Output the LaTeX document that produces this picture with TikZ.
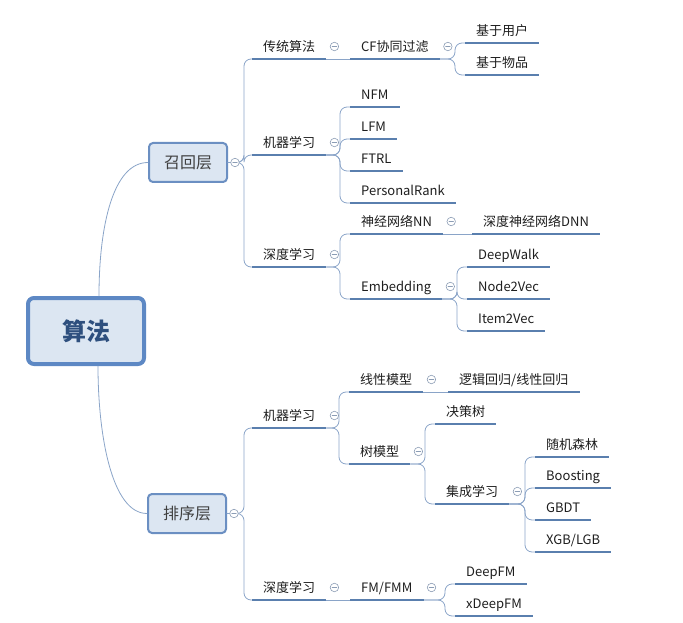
\documentclass[tikz,border=0pt]{standalone}
\usepackage{fontspec}
\setmainfont{Noto Sans CJK SC}
\usepackage{xcolor}
\usepackage{tikz}
\definecolor{mapLine}{HTML}{5A7FAE}
\definecolor{mapThin}{HTML}{8AA4C8}
\definecolor{mapFill}{HTML}{DCE6F2}
\definecolor{mapBorder}{HTML}{6B8FC2}
\definecolor{mapRoot}{HTML}{5D88C4}
\definecolor{mapRootText}{HTML}{2E4F7E}
\definecolor{mapInk}{HTML}{1E1E1E}
\definecolor{mapFold}{HTML}{8C9DB5}

\begin{document}
\begin{tikzpicture}[x=1pt, y=-1pt, line cap=round, line join=round,
  topic/.style={anchor=south west, inner xsep=11pt, inner ysep=5pt, text height=10pt,
    text depth=2.5pt, font=\fontsize{13}{15}\selectfont, text=mapInk},
  layer/.style={draw=mapBorder, line width=2pt, fill=mapFill, rounded corners=4pt,
    minimum width=78pt, minimum height=39pt, font=\fontsize{16}{18}\selectfont, text=mapInk!85},
  rootbox/.style={draw=mapRoot, line width=4pt, fill=mapFill, rounded corners=6pt,
    minimum width=116pt, minimum height=66pt, font=\bfseries\fontsize{24}{26}\selectfont, text=mapRootText},
  uline/.style={mapLine, line width=2.8pt, line cap=butt},
  conn/.style={mapThin, line width=0.8pt, rounded corners=7pt},
  fold/.style={circle, draw=mapFold, fill=white, line width=0.6pt, minimum size=8.5pt, inner sep=0pt,
    path picture={\draw[mapFold, line width=0.6pt] ([xshift=-2.3pt]path picture bounding box.center)
      -- ([xshift=2.3pt]path picture bounding box.center);}}]
  \useasboundingbox (0,0) rectangle (683,623);

  % root and the two layers
  \node[rootbox] (root) at (86,331) {算法};
  \node[layer] (recall) at (188,162.5) {召回层};
  \node[layer] (rank) at (187,513.5) {排序层};

  % recall side
  \node[topic] (t1) at (252,59) {传统算法};
  \node[topic] (t2) at (252,155) {机器学习};
  \node[topic] (t3) at (252,267) {深度学习};
  \node[topic] (cf) at (350,59) {CF协同过滤};
  \node[topic] (u1) at (465,43) {基于用户};
  \node[topic] (u2) at (465,75) {基于物品};
  \node[topic] (nfm) at (350,107) {NFM};
  \node[topic] (lfm) at (350,139) {LFM};
  \node[topic] (ftrl) at (350,171) {FTRL};
  \node[topic] (pr) at (350,203) {PersonalRank};
  \node[topic] (nn) at (350,234) {神经网络NN};
  \node[topic] (dnn) at (472,234) {深度神经网络DNN};
  \node[topic] (emb) at (350,299) {Embedding};
  \node[topic] (dw) at (467,267) {DeepWalk};
  \node[topic] (n2v) at (467,299) {Node2Vec};
  \node[topic] (i2v) at (467,331) {Item2Vec};

  % ranking side
  \node[topic] (s1) at (252,428) {机器学习};
  \node[topic] (s2) at (252,600) {深度学习};
  \node[topic] (lin) at (349,392) {线性模型};
  \node[topic] (lr) at (448,392) {逻辑回归/线性回归};
  \node[topic] (tree) at (349,464) {树模型};
  \node[topic] (dt) at (435,424) {决策树};
  \node[topic] (ens) at (435,504) {集成学习};
  \node[topic] (rf) at (535,457) {随机森林};
  \node[topic] (bst) at (535,488) {Boosting};
  \node[topic] (gbdt) at (535,520) {GBDT};
  \node[topic] (xgb) at (535,552) {XGB/LGB};
  \node[topic] (fm) at (350,600) {FM/FMM};
  \node[topic] (dfm) at (455,584) {DeepFM};
  \node[topic] (xdfm) at (455,616) {xDeepFM};

  % connectors
  \draw[conn, rounded corners=0pt] ([xshift=13pt]root.north) .. controls +(0,-70) and +(-35,0) .. (recall.west);
  \draw[conn, rounded corners=0pt] ([xshift=12pt]root.south) .. controls +(0,70) and +(-35,0) .. (rank.west);
  \foreach \p/\c in {recall/t1, recall/t2, recall/t3, rank/s1, rank/s2}
    \draw[conn] (\p.east) -| ([xshift=-8pt]\c.south west) -- (\c.south west);
  \foreach \p/\c in {cf/u1, cf/u2, t2/nfm, t2/lfm, t2/ftrl, t2/pr, t3/nn, t3/emb,
      emb/dw, emb/n2v, emb/i2v, s1/lin, s1/tree, tree/dt, tree/ens, ens/rf, ens/bst,
      ens/gbdt, ens/xgb, fm/dfm, fm/xdfm}
    \draw[conn] (\p.south east) -| ([xshift=-10pt]\c.south west) -- (\c.south west);
  \foreach \p/\c in {t1/cf, nn/dnn, lin/lr, s2/fm}
    \draw[conn] (\p.south east) -- (\c.south west);

  % underlines
  \foreach \n in {t1, t2, t3, cf, u1, u2, nfm, lfm, ftrl, pr, nn, dnn, emb, dw, n2v, i2v,
      s1, s2, lin, lr, tree, dt, ens, rf, bst, gbdt, xgb, fm, dfm, xdfm}
    \draw[uline] (\n.south west) -- (\n.south east);

  % fold markers
  \foreach \p in {recall, rank}
    \node[fold] (f\p) at ([xshift=7pt]\p.east) {};
  \foreach \p in {t1, t2, t3, cf, nn, emb, s1, s2, lin, tree, ens, fm}
    \node[fold] (f\p) at ([xshift=8pt,yshift=12.5pt]\p.south east) {};
\end{tikzpicture}
\end{document}
